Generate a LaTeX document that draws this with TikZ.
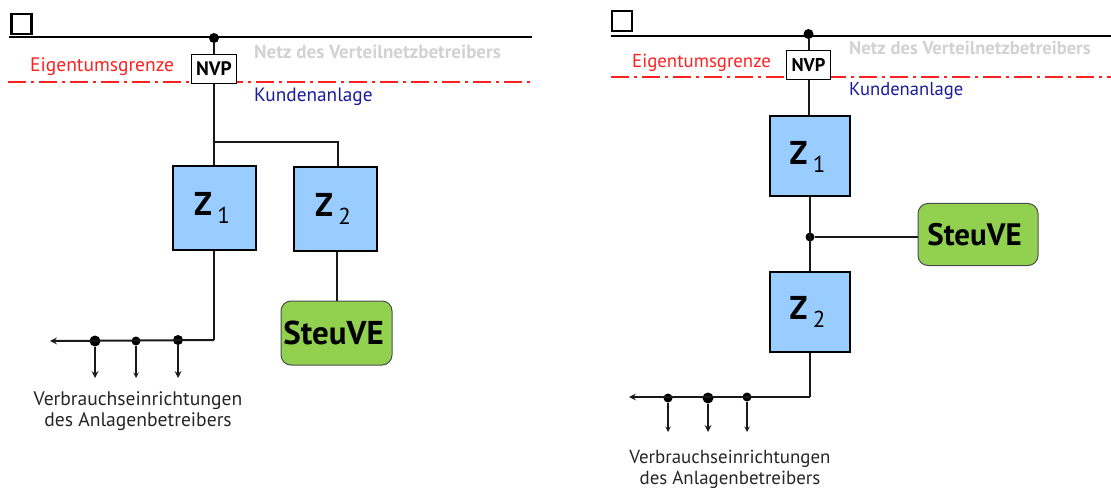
\documentclass[tikz,border=0pt]{standalone}
\usepackage{fontspec}
\setmainfont{PT Sans}
\usepackage{xcolor}
\usetikzlibrary{arrows,positioning,calc}
\definecolor{zaehlerblue}{HTML}{99CCFF}
\definecolor{steuegreen}{HTML}{92D050}
\definecolor{grenzered}{HTML}{FF2020}
\definecolor{kundeblue}{HTML}{1A1A9C}
\definecolor{netzgray}{HTML}{D2D2D2}
\tikzset{
  bus/.style={line width=2pt,black},
  wire/.style={line width=2pt,black!90},
  thinwire/.style={line width=1.4pt,black!90},
  grenze/.style={line width=1.8pt,grenzered,dash pattern=on 18pt off 5pt on 3pt off 5pt},
  nvpbox/.style={draw,line width=1.4pt,fill=white,inner sep=0pt,minimum width=45pt,minimum height=29pt,font=\fontsize{#1}{#1}\selectfont\bfseries},
  zbox/.style={draw,line width=2pt,fill=zaehlerblue,inner sep=0pt,minimum size=83pt,font=\fontsize{33}{33}\selectfont\bfseries},
  steuve/.style={draw=black!70,line width=1pt,fill=steuegreen,rounded corners=10pt,inner sep=0pt,font=\fontsize{#1}{#1}\selectfont},
  dot/.style={circle,fill=black,inner sep=0pt,minimum size=#1},
  dot/.default=10pt,
  cornerbox/.style={draw,line width=2.2pt,fill=white,inner sep=0pt,minimum size=20pt},
  lbl/.style={inner sep=0pt,font=\fontsize{#1}{#1}\selectfont},
  lblbot/.style={align=center,inner sep=0pt,font=\fontsize{#1}{21}\selectfont,text=black!85}
}
\newcommand{\zname}[1]{\raisebox{-4pt}{Z\,\raisebox{-8pt}{\fontsize{23}{23}\selectfont\mdseries #1}}\kern4pt}
\begin{document}
\begin{tikzpicture}[x=1pt,y=-1pt]
\useasboundingbox (0,0) rectangle (1111,489);
% left
\coordinate (busLa) at (9,37);
\coordinate (busLb) at (532,37);
\coordinate (grenzeLa) at (8,82);
\coordinate (grenzeLb) at (532,82);
\draw[grenze] (grenzeLa) -- (grenzeLb);
\draw[bus] (busLa) -- (busLb);
\node[cornerbox] (sqL) at (21.5,24) {};
\node[dot] (dotL) at (214,38) {};
\node[nvpbox=19.5] (nvpL) at (214,69) {NVP};
\node[lbl=19.5,text=grenzered,anchor=west] (eigL) at (30,67) {Eigentumsgrenze};
\node[lbl=19,text=netzgray,anchor=west] (netzL) at (254,52) {\textbf{Netz des Verteilnetzbetreibers}};
\node[lbl=19.3,text=kundeblue,anchor=west] (kundeL) at (254,97) {Kundenanlage};
\node[zbox] (zaL) at (214,208) {\zname{1}};
\node[zbox] (zbL) at (335,209) {\zname{2}};
\node[steuve=33,minimum width=111pt,minimum height=64pt] (steuL) at (336.5,333) {\textbf{SteuVE}\kern6pt};
\coordinate (brL) at (214,142);
\coordinate (endL) at (50,341);
\coordinate (knickL) at (214,340);
\node[dot=11pt] (aL) at (95,341) {};
\node[dot=9pt] (bL) at (136,341) {};
\node[dot=10pt] (cL) at (178,340) {};
\coordinate (aLend) at (95,378);
\coordinate (bLend) at (136,378);
\coordinate (cLend) at (178,378);
\draw[wire] (dotL) -- (nvpL);
\draw[wire] (nvpL) -- (zaL);
\draw[thinwire] (brL) -| ([xshift=3pt]zbL.north);
\draw[wire] (zaL) -- (knickL);
\draw[wire,-stealth] (knickL) -- (endL);
\draw[wire] ([xshift=1.5pt]zbL.south) -- (steuL.north);
\draw[wire,-stealth] (aL) -- (aLend);
\draw[thinwire,-stealth] (bL) -- (bLend);
\draw[wire,-stealth] (cL) -- (cLend);
\node[lblbot=19.6] (verbL) at (138,411) {Verbrauchseinrichtungen\\des Anlagenbetreibers};
% right
\coordinate (busRa) at (611,36);
\coordinate (busRb) at (1111,36);
\coordinate (grenzeRa) at (611,77);
\coordinate (grenzeRb) at (1111,77);
\draw[grenze] (grenzeRa) -- (grenzeRb);
\draw[bus] (busRa) -- (busRb);
\node[cornerbox] (sqR) at (622,21) {};
\node[dot] (dotR) at (808.5,34) {};
\node[nvpbox=18.5,minimum width=44pt] (nvpR) at (808.5,65) {NVP};
\node[lbl=18.8,text=grenzered,anchor=west] (eigR) at (632,63) {Eigentumsgrenze};
\node[lbl=18.6,text=netzgray,anchor=west] (netzR) at (849,48) {\textbf{Netz des Verteilnetzbetreibers}};
\node[lbl=18.6,text=kundeblue,anchor=west] (kundeR) at (849,91) {Kundenanlage};
\node[zbox,minimum size=80pt] (zaR) at (809.5,156.5) {\zname{1}};
\node[zbox,minimum size=80pt] (zbR) at (809.5,311.5) {\zname{2}};
\node[steuve=31,minimum width=120pt,minimum height=62pt] (steuR) at (978,234.5) {\textbf{SteuVE}\kern7pt};
\node[dot=9pt] (midR) at (810,237) {};
\coordinate (knickR) at (810,397);
\coordinate (endR) at (629,397);
\node[dot=9pt] (aR) at (668,398) {};
\node[dot=11pt] (bR) at (708,398) {};
\node[dot=9pt] (cR) at (747,397) {};
\coordinate (aRend) at (668,432);
\coordinate (bRend) at (708,432);
\coordinate (cRend) at (747,432);
\draw[wire] (dotR) -- (nvpR);
\draw[wire] (nvpR.south) -- ([xshift=-1pt]zaR.north);
\draw[wire] ([xshift=.5pt]zaR.south) -- ([xshift=.5pt]zbR.north);
\draw[thinwire] (midR) -- (midR -| steuR.west);
\draw[wire] ([xshift=.5pt]zbR.south) -- (knickR);
\draw[wire,-stealth] (knickR) -- (endR);
\draw[thinwire,-stealth] (aR) -- (aRend);
\draw[wire,-stealth] (bR) -- (bRend);
\draw[thinwire,-stealth] (cR) -- (cRend);
\node[lblbot=18.9] (verbR) at (730,469) {Verbrauchseinrichtungen\\des Anlagenbetreibers};
\end{tikzpicture}
\end{document}
